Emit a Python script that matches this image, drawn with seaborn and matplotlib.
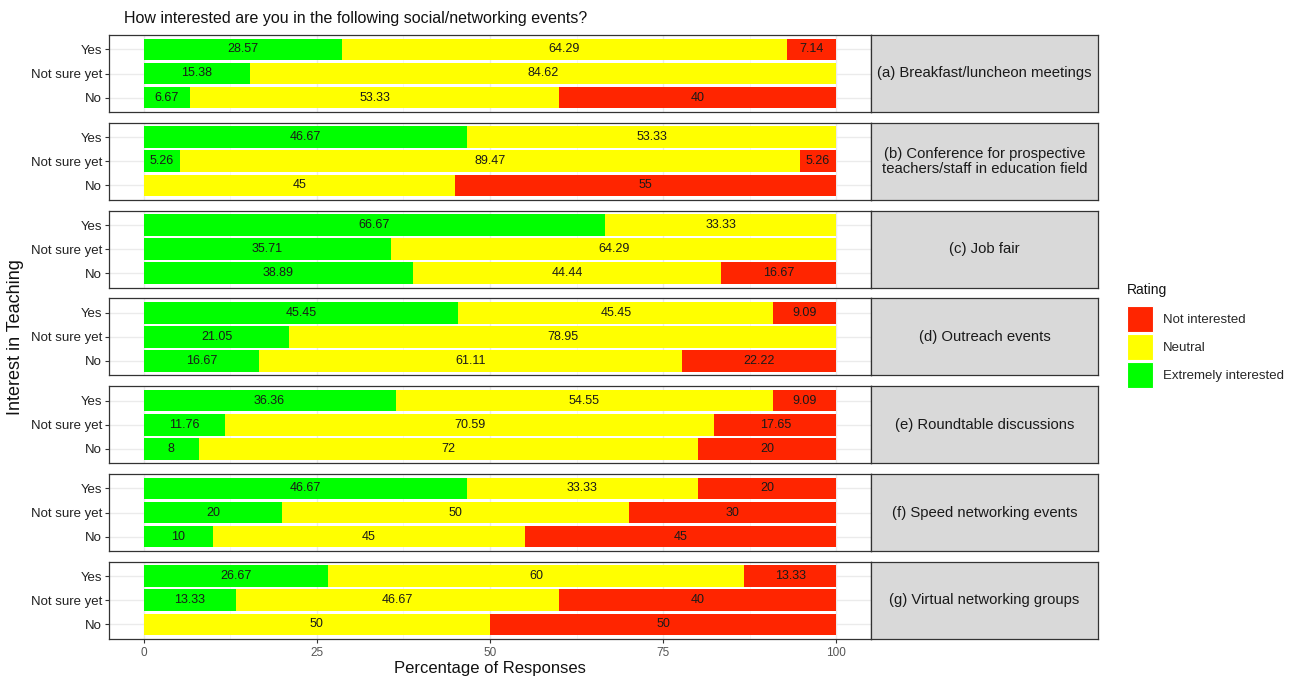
import numpy as np
import pandas as pd
import matplotlib
matplotlib.use("Agg")
import matplotlib.pyplot as plt
from matplotlib.patches import Patch
import seaborn as sns

# ---- data -------------------------------------------------------------
events = [
    "(a) Breakfast/luncheon meetings",
    "(b) Conference for prospective\nteachers/staff in education field",
    "(c) Job fair",
    "(d) Outreach events",
    "(e) Roundtable discussions",
    "(f) Speed networking events",
    "(g) Virtual networking groups",
]
groups = ["Yes", "Not sure yet", "No"]
ratings = ["Extremely interested", "Neutral", "Not interested"]

# percentages per event, rows = groups (Yes, Not sure yet, No)
extremely = [
    [28.57, 15.38, 6.67],
    [46.67, 5.26, 0],
    [66.67, 35.71, 38.89],
    [45.45, 21.05, 16.67],
    [36.36, 11.76, 8],
    [46.67, 20, 10],
    [26.67, 13.33, 0],
]
neutral = [
    [64.29, 84.62, 53.33],
    [53.33, 89.47, 45],
    [33.33, 64.29, 44.44],
    [45.45, 78.95, 61.11],
    [54.55, 70.59, 72],
    [33.33, 50, 45],
    [60, 46.67, 50],
]
not_interested = [
    [7.14, 0, 40],
    [0, 5.26, 55],
    [0, 0, 16.67],
    [9.09, 0, 22.22],
    [9.09, 17.65, 20],
    [20, 30, 45],
    [13.33, 40, 50],
]

colors = {"Extremely interested": "#00FF00", "Neutral": "#FFFF00",
          "Not interested": "#FF2500"}

rows = []
for i, ev in enumerate(events):
    for j, g in enumerate(groups):
        for r, vals in zip(ratings, [extremely, neutral, not_interested]):
            rows.append({"event": ev, "group": g, "rating": r,
                         "pct": vals[i][j]})
df = pd.DataFrame(rows)
df["group"] = pd.Categorical(df["group"], groups, ordered=True)
df["rating"] = pd.Categorical(df["rating"], ratings, ordered=True)
df = df.sort_values(["event", "group", "rating"])
df["cum"] = df.groupby(["event", "group"], observed=True)["pct"].cumsum()
df["mid"] = df["cum"] - df["pct"] / 2

# ---- figure -----------------------------------------------------------
sns.set_theme(style="white")
plt.rcParams["font.family"] = ["Liberation Sans", "DejaVu Sans"]

W, H = 1295, 679
fig = plt.figure(figsize=(W / 100, H / 100), dpi=100)

px_left, px_right, strip_right = 109, 871, 1098
top0, panel_h, step = 35, 77, 87.8

def fig_rect(x0, y0, x1, y1):
    return [x0 / W, 1 - y1 / H, (x1 - x0) / W, (y1 - y0) / H]

edge = "#333333"
grid_major = "#EBEBEB"

for i, ev in enumerate(events):
    y0 = top0 + i * step
    ax = fig.add_axes(fig_rect(px_left, y0, px_right, y0 + panel_h))
    sub = df[df["event"] == ev]
    # stacked bars drawn as overlapping cumulative totals, right-most first
    for r in reversed(ratings):
        d = sub[sub["rating"] == r]
        sns.barplot(data=d, x="cum", y="group", order=groups, orient="h",
                    color=colors[r], saturation=1, width=0.9,
                    linewidth=0, errorbar=None, ax=ax, zorder=2)
    for _, row in sub.iterrows():
        if row["pct"] > 0:
            ax.text(row["mid"], groups.index(row["group"]),
                    f"{row['pct']:g}", ha="center", va="center",
                    fontsize=9, color="#1a1a1a", zorder=3)
    ax.set_xlim(-5, 105)
    ax.set_ylim(2.6, -0.6)
    ax.set_xticks([0, 25, 50, 75, 100])
    ax.set_xticks([12.5, 37.5, 62.5, 87.5], minor=True)
    ax.grid(True, which="major", color=grid_major, lw=1.0, zorder=0)
    ax.grid(True, which="minor", axis="x", color="#F4F4F4", lw=0.6, zorder=0)
    ax.set_axisbelow(True)
    ax.set_xlabel("")
    ax.set_ylabel("")
    for s in ax.spines.values():
        s.set_color(edge)
        s.set_linewidth(0.9)
    ax.tick_params(axis="y", length=3, width=0.8, color=edge,
                   labelsize=9.5, labelcolor="#222222", pad=2, left=True)
    if i == len(events) - 1:
        ax.tick_params(axis="x", length=3, width=0.8, color=edge,
                       labelsize=8.5, labelcolor="#555555", pad=3, bottom=True)
        ax.set_xticklabels(["0", "25", "50", "75", "100"])
        ax.set_xlabel("Percentage of Responses", fontsize=12,
                      color="#111111", labelpad=1)
    else:
        ax.tick_params(axis="x", length=0, labelbottom=False)
    ax.tick_params(axis="x", which="minor", length=0)

    # facet strip
    sax = fig.add_axes(fig_rect(px_right, y0, strip_right, y0 + panel_h))
    sax.set_facecolor("#D9D9D9")
    sax.set_xticks([])
    sax.set_yticks([])
    for s in sax.spines.values():
        s.set_color(edge)
        s.set_linewidth(0.9)
    sax.text(0.5, 0.5, ev, ha="center", va="center", fontsize=10.7,
             color="#1a1a1a", transform=sax.transAxes, linespacing=1.05)

fig.text(124 / W, 1 - 18 / H, "How interested are you in the following social/networking events?",
         fontsize=11.5, color="#111111", ha="left", va="center")
fig.text(16 / W, 1 - 337 / H, "Interest in Teaching", rotation=90,
         fontsize=13, color="#111111", ha="center", va="center")

# legend: title set as its own text so the keys sit a little lower
fig.text(1127 / W, 1 - 290 / H, "Rating", fontsize=10, color="#111111",
         ha="left", va="center")
handles = [Patch(facecolor=colors[r], edgecolor="white", linewidth=0.8,
                 label=r)
           for r in ["Not interested", "Neutral", "Extremely interested"]]
fig.legend(handles=handles, loc="upper left",
           bbox_to_anchor=(1127 / W, 1 - 306 / H), frameon=False,
           fontsize=9.5, handlelength=1.97,
           handleheight=2.65, labelspacing=0.15, handletextpad=0.75,
           borderaxespad=0, borderpad=0)

fig.savefig("out.png", dpi=100)
